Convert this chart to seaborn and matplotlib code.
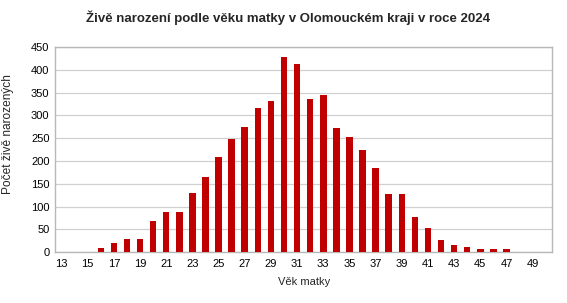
import matplotlib
matplotlib.use("Agg")
import matplotlib.pyplot as plt
import seaborn as sns
import pandas as pd

ages = list(range(13, 51))
births = [0, 0, 0, 10, 21, 28, 28, 68, 87, 87, 129, 164, 208, 248, 274, 316,
          332, 429, 413, 336, 345, 272, 252, 224, 184, 127, 127, 76, 52, 26,
          15, 12, 6, 6, 6, 0, 0, 0]
title = "Živě narození podle věku matky v Olomouckém kraji v roce 2024"
xlabel = "Věk matky"
ylabel = "Počet živě narozených"

sns.set_theme(style="white")
plt.rcParams['font.family'] = ['Liberation Sans', 'DejaVu Sans']

df = pd.DataFrame({"age": [str(a) for a in ages], "n": births})

fig = plt.figure(figsize=(5.67, 3.03), dpi=100)
ax = fig.add_axes([0.097, 0.168, 0.877, 0.677])
sns.barplot(data=df, x="age", y="n", color="#C00000", width=0.5,
            saturation=1, ax=ax, zorder=3, edgecolor="none", linewidth=0)

ax.set_xlim(-0.5, len(ages) - 0.5)
ax.set_ylim(0, 450)
ax.set_yticks(range(0, 451, 50))
ax.set_xticks(range(0, len(ages), 2))
ax.set_xticklabels([str(a) for a in ages[::2]])
ax.tick_params(axis='both', labelsize=8, length=0, colors="#000000")
ax.tick_params(axis='x', pad=5)
ax.tick_params(axis='y', pad=4)
ax.yaxis.grid(True, color="#D0D0D0", linewidth=0.9, zorder=0)
ax.set_axisbelow(True)
for s in ax.spines.values():
    s.set_color("#B8B8B8")
    s.set_linewidth(1.0)

ax.set_xlabel(xlabel, fontsize=8, labelpad=6)
ax.set_ylabel(ylabel, fontsize=8.6)
ax.yaxis.set_label_coords(-0.082, 0.576)
fig.text(0.508, 0.94, title, ha="center", va="center", fontsize=9.5,
         fontweight="bold")

fig.savefig("out.png", dpi=100)
